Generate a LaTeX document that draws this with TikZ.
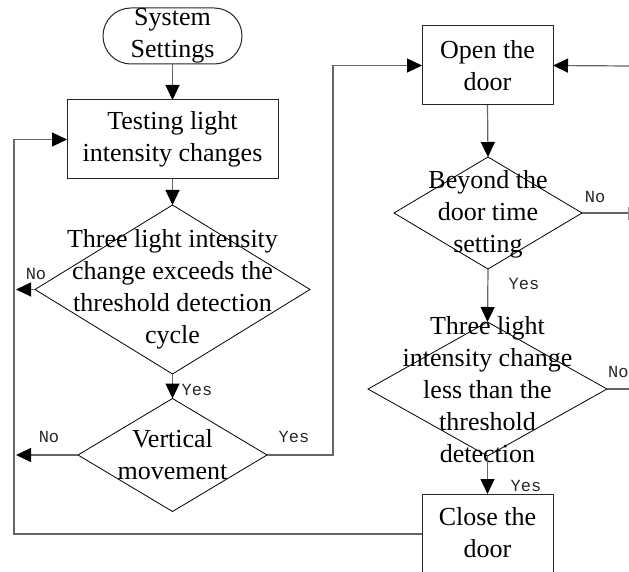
\documentclass[tikz,border=0pt]{standalone}
\usepackage{fontspec}
\setmainfont{Liberation Serif}
\newfontfamily\labfont{Liberation Mono}
\usetikzlibrary{shapes.geometric,arrows.meta}
\newcommand\maintext{\fontsize{26}{32}\selectfont}
\begin{document}
\begin{tikzpicture}[x=1pt,y=-1pt,
 conn/.style={draw=black!60, line width=1.2pt},
 arr/.style={conn,-{Triangle[length=15pt,width=14pt,color=black]}},
 boxnode/.style={draw=black!85, line width=1pt, rectangle, inner sep=0pt, outer sep=0pt, align=center, font=\maintext},
 dia/.style={draw=black, line width=0.8pt, diamond, inner sep=0pt, outer sep=0pt},
 txt/.style={align=center, font=\maintext, inner sep=0pt},
 lab/.style={font=\labfont\fontsize{17}{17}\selectfont, text=black!85, inner sep=0pt}
]
\useasboundingbox (0,0) rectangle (629,572);
\clip (0,0) rectangle (629,572);
% nodes
\node[boxnode, rounded corners=27.9pt, minimum width=139pt, minimum height=56pt] (start) at (172.5,36) {System\\Settings};
\node[boxnode, minimum width=211pt, minimum height=79pt] (test) at (172.5,139.5) {Testing light\\intensity changes};
\node[dia, minimum width=275pt, minimum height=169pt] (d1) at (172.5,289.5) {};
\node[txt] (d1t) at (172.5,289.5) {Three light intensity\\change exceeds the\\threshold detection\\cycle};
\node[dia, minimum width=189pt, minimum height=113pt] (d2) at (172.5,455) {};
\node[txt] (d2t) at (172.5,455) {Vertical\\movement};
\node[boxnode, minimum width=131pt, minimum height=79pt] (open) at (487.5,65.5) {Open the\\door};
\node[dia, minimum width=188pt, minimum height=112pt] (d3) at (488,213) {};
\node[txt] (d3t) at (488,214) {Beyond the\\door time\\setting};
\node[dia, minimum width=239pt, minimum height=134pt] (d4) at (487.5,389) {};
\node[txt] (d4t) at (487.5,390) {Three light\\intensity change\\less than the\\threshold\\detection};
\node[boxnode, minimum width=131pt, minimum height=80pt] (close) at (487.5,534) {};
\node[txt] (closet) at (487.5,533) {Close the\\door};
% free ends
\coordinate (noA) at (16,289.5);
\coordinate (noB) at (16,455);
\coordinate (yesB) at (333,455);
\coordinate (noC) at (629,213);
\coordinate (tickT) at (628,207);
\coordinate (tickB) at (628,220);
\coordinate (retR) at (629,66);
\coordinate (noD) at (629,389);
\coordinate (loopL) at (14,534);
% connectors
\draw[arr] (start) -- (test);
\draw[arr] (test) -- (d1);
\draw[arr] (d1.west) -- (noA);
\draw[arr] (d1.south) -- (d2.north);
\draw[arr] (d2.west) -- (noB);
\draw[arr] (d2.east) -- (yesB) |- (open.west);
\draw[arr] (open.south) -- (d3.north);
\draw[conn] (d3.east) -- (noC);
\draw[conn, line width=0.8pt, draw=black!40] (tickT) -- (tickB);
\draw[arr] (retR) -- (open.east);
\draw[arr] (d3.south) -- (d4.north);
\draw[conn] (d4.east) -- (noD);
\draw[arr] (d4.south) -- (close.north);
\draw[arr] (close.west |- loopL) -- (loopL) |- (test.west);
% labels
\node[lab] (lNo1) at (36,274) {No};
\node[lab] (lYes1) at (197,390) {Yes};
\node[lab] (lNo2) at (49,437) {No};
\node[lab] (lYes2) at (294,437) {Yes};
\node[lab] (lNo3) at (595,197) {No};
\node[lab] (lYes3) at (524,284) {Yes};
\node[lab, anchor=west] (lNo4) at (608,372) {No};
\node[lab] (lYes4) at (526,486) {Yes};
\end{tikzpicture}
\end{document}
